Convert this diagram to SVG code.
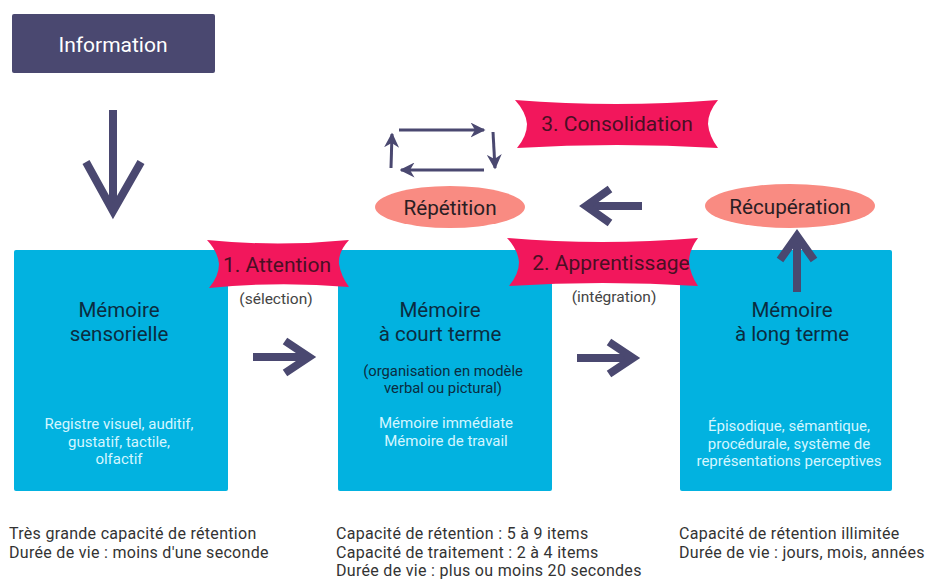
<svg xmlns="http://www.w3.org/2000/svg" width="931" height="581" viewBox="0 0 931 581">
<style>
.box{fill:#02b2e0}
.title{font-family:Roboto,"Liberation Sans",sans-serif;font-size:20.5px;fill:#0b2c40;text-anchor:middle}
.sub{font-family:Roboto,"Liberation Sans",sans-serif;font-size:14.8px;fill:#0b2c40;text-anchor:middle}
.light{font-family:Roboto,"Liberation Sans",sans-serif;font-size:15px;fill:#d4f6ff;text-anchor:middle}
.ribbon{fill:#f2175c}
.rtxt{font-family:Roboto,"Liberation Sans",sans-serif;font-size:21px;fill:#4a0f24;text-anchor:middle}
.ell{fill:#f98b82}
.etxt{font-family:Roboto,"Liberation Sans",sans-serif;font-size:20.7px;fill:#2a1e24;text-anchor:middle}
.gray{font-family:Roboto,"Liberation Sans",sans-serif;font-size:15.5px;fill:#444;text-anchor:middle}
.foot{font-family:Roboto,"Liberation Sans",sans-serif;font-size:16px;letter-spacing:0.3px;fill:#333}
.big{fill:none;stroke:#4a4870;stroke-width:8}
.thin{fill:none;stroke:#4a4870;stroke-width:3}
</style>
<defs>
<marker id="ah" viewBox="0 0 10 10" refX="9" refY="5" markerWidth="5" markerHeight="5" orient="auto" markerUnits="strokeWidth">
<path d="M0,0 L10,5 L0,10 L3,5 Z" fill="#4a4870"/>
</marker>
</defs>
<rect width="931" height="581" fill="#fff"/>

<g id="information">
<rect x="12" y="14" width="203" height="59" rx="2" fill="#4a4870"/>
<text x="113" y="52" font-family="Roboto,'Liberation Sans',sans-serif" font-size="21" fill="#fff" text-anchor="middle">Information</text>
</g>

<g id="memoire-sensorielle">
<rect class="box" x="14" y="250" width="214" height="241" rx="2"/>
<text class="title" x="119" y="317">Mémoire</text>
<text class="title" x="119" y="341">sensorielle</text>
<text class="light" x="119" y="429">Registre visuel, auditif,</text>
<text class="light" x="119" y="446.5">gustatif, tactile,</text>
<text class="light" x="119" y="464">olfactif</text>
</g>

<g id="memoire-court-terme">
<rect class="box" x="338" y="250" width="214" height="241" rx="2"/>
<text class="title" x="440" y="317">Mémoire</text>
<text class="title" x="440" y="341">à court terme</text>
<text class="sub" x="443" y="376">(organisation en modèle</text>
<text class="sub" x="443" y="393">verbal ou pictural)</text>
<text class="light" x="446" y="428">Mémoire immédiate</text>
<text class="light" x="446" y="445.5">Mémoire de travail</text>
</g>

<g id="memoire-long-terme">
<rect class="box" x="680" y="250" width="212" height="241" rx="2"/>
<text class="title" x="792" y="317">Mémoire</text>
<text class="title" x="792" y="341">à long terme</text>
<text class="light" x="789" y="431">Épisodique, sémantique,</text>
<text class="light" x="789" y="448.5">procédurale, système de</text>
<text class="light" x="789" y="466">représentations perceptives</text>
</g>

<g id="attention">
<path class="ribbon" d="M207,240 Q278,247 349,240 Q338,252 339,264 Q341,276 349,287 Q278,281 209,288 Q219,276 219,264 Q218,252 207,240 Z"/>
<text class="rtxt" x="277" y="272">1. Attention</text>
</g>
<text class="gray" x="276" y="304">(sélection)</text>

<g id="apprentissage">
<path class="ribbon" d="M507,238 Q602,246 698,238 Q689,250 689,262 Q690,274 698,286 Q602,280 509,286 Q519,274 519,262 Q518,250 507,238 Z"/>
<text class="rtxt" x="611" y="270">2. Apprentissage</text>
</g>
<text class="gray" x="614" y="302">(intégration)</text>

<g id="consolidation">
<path class="ribbon" d="M515,100 Q616,108 718,100 Q708,112 708,124 Q709,136 718,148 Q616,142 517,148 Q527,136 527,124 Q526,112 515,100 Z"/>
<text class="rtxt" x="617" y="131">3. Consolidation</text>
</g>

<g id="repetition">
<ellipse class="ell" cx="450" cy="207" rx="75" ry="21"/>
<text class="etxt" x="450" y="215">Répétition</text>
</g>

<g id="recuperation">
<ellipse class="ell" cx="790" cy="206" rx="85" ry="22"/>
<text class="etxt" x="790" y="214">Récupération</text>
</g>

<g id="connectors">
<path class="big" d="M113,110 V210"/>
<path class="big" d="M86,162 L113,211 L141,162" stroke-linejoin="miter"/>
<path class="big" d="M253,357 H308"/>
<path class="big" d="M285,341 L309,357 L285,373"/>
<path class="big" d="M577,358 H632"/>
<path class="big" d="M609,342 L633,358 L609,374"/>
<path class="big" d="M642,206 H587"/>
<path class="big" d="M610,189 L586,206 L610,223"/>
<path class="big" d="M797,292 V238"/>
<path class="big" d="M780,260 L797,236 L814,260"/>
<path class="thin" d="M399,130 H484" marker-end="url(#ah)"/>
<path class="thin" d="M493,132 L495,168" marker-end="url(#ah)"/>
<path class="thin" d="M484,170 H401" marker-end="url(#ah)"/>
<path class="thin" d="M391,168 L392,134" marker-end="url(#ah)"/>
</g>

<g id="footer">
<text class="foot" x="9" y="539">Très grande capacité de rétention</text>
<text class="foot" x="9" y="557.5">Durée de vie : moins d'une seconde</text>
<text class="foot" x="336" y="539">Capacité de rétention : 5 à 9 items</text>
<text class="foot" x="336" y="557.5">Capacité de traitement : 2 à 4 items</text>
<text class="foot" x="336" y="576">Durée de vie : plus ou moins 20 secondes</text>
<text class="foot" x="679" y="539">Capacité de rétention illimitée</text>
<text class="foot" x="679" y="557.5">Durée de vie : jours, mois, années</text>
</g>
</svg>
